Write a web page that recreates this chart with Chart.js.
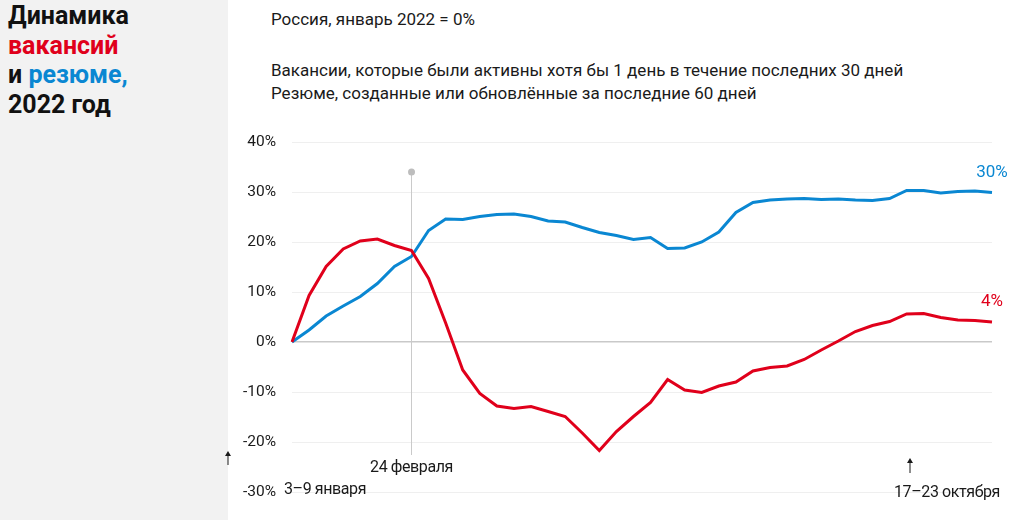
<!DOCTYPE html>
<html lang="ru">
<head>
<meta charset="utf-8">
<script src="https://cdn.jsdelivr.net/npm/chart.js@4"></script>
<style>
    html, body { margin: 0; padding: 0; background: #fff; }
    body { width: 1024px; height: 520px; position: relative; overflow: hidden; font-family: Roboto, "Noto Sans", sans-serif; color: #1a1a1a; }
    #panel { position: absolute; left: 0; top: 0; width: 228px; height: 520px; background: #f2f2f2; }
    #title { position: absolute; left: 8px; top: 1px; font-size: 25px; font-weight: 700; line-height: 29.5px; color: #111; }
    .red { color: #e0001b; }
    .blue { color: #0a87d2; }
    #sub1 { position: absolute; left: 271px; top: 9px; font-size: 17px; }
    #sub2 { position: absolute; left: 271px; top: 59px; font-size: 17px; line-height: 23px; }
    #wrap { position: absolute; left: 0; top: 0; width: 1024px; height: 520px; }
</style>
</head>
<body>
<div id="panel"></div>
<div id="title">Динамика<br><span class="red">вакансий</span><br>и <span class="blue">резюме,</span><br>2022 год</div>
<div id="sub1">Россия, январь 2022 = 0%</div>
<div id="sub2">Вакансии, которые были активны хотя бы 1 день в течение последних 30 дней<br>Резюме, созданные или обновлённые за последние 60 дней</div>
<div id="wrap"><canvas id="chart"></canvas></div>

<script>
// недели 2022 года
let weeks = [
    "3–9 января", "10–16 января", "17–23 января", "24–30 января", "31 января–6 февраля",
    "7–13 февраля", "14–20 февраля", "21–27 февраля", "28 февраля–6 марта", "7–13 марта",
    "14–20 марта", "21–27 марта", "28 марта–3 апреля", "4–10 апреля", "11–17 апреля",
    "18–24 апреля", "25 апреля–1 мая", "2–8 мая", "9–15 мая", "16–22 мая",
    "23–29 мая", "30 мая–5 июня", "6–12 июня", "13–19 июня", "20–26 июня",
    "27 июня–3 июля", "4–10 июля", "11–17 июля", "18–24 июля", "25–31 июля",
    "1–7 августа", "8–14 августа", "15–21 августа", "22–28 августа", "29 августа–4 сентября",
    "5–11 сентября", "12–18 сентября", "19–25 сентября", "26 сентября–2 октября", "3–9 октября",
    "10–16 октября", "17–23 октября"
];

let vacancies = [
    0, 9.3, 15.1, 18.6, 20.2, 20.6, 19.3, 18.3, 12.7, 3.8,
    -5.6, -10.3, -12.8, -13.3, -12.9, -13.9, -14.9, -18.2, -21.7, -17.9,
    -14.9, -12.1, -7.5, -9.6, -10.1, -8.8, -8.0, -5.8, -5.1, -4.8,
    -3.5, -1.6, 0.2, 2.1, 3.3, 4.1, 5.6, 5.7, 4.9, 4.4,
    4.3, 4.0
];

let resumes = [
    0, 2.4, 5.2, 7.2, 9.1, 11.7, 15.1, 17.1, 22.3, 24.6,
    24.5, 25.1, 25.5, 25.6, 25.1, 24.2, 24.0, 22.9, 21.9, 21.3,
    20.5, 20.9, 18.7, 18.8, 20.0, 22.0, 25.9, 27.9, 28.4, 28.6,
    28.7, 28.5, 28.6, 28.4, 28.3, 28.7, 30.3, 30.3, 29.8, 30.1,
    30.2, 29.9
];

let yTicks = [-30, -20, -10, 0, 10, 20, 30, 40];

let markWeek = 7;          // 24 февраля
let endLabels = ["4%", "30%"];

const RED = "#e0001b";
const BLUE = "#0a87d2";
const FONT = "Roboto, 'Noto Sans', sans-serif";

let notes = {
    id: "notes",
    beforeDatasetsDraw(chart) {
        let c = chart.ctx;
        let x = chart.scales.x.getPixelForValue(markWeek);
        let y = chart.scales.y;
        c.save();
        c.strokeStyle = "#cacaca";
        c.lineWidth = 1;
        c.beginPath();
        c.moveTo(x, y.getPixelForValue(34));
        c.lineTo(x, y.getPixelForValue(-22.6));
        c.stroke();
        c.fillStyle = "#bdbdbd";
        c.beginPath();
        c.arc(x, y.getPixelForValue(34), 3.5, 0, Math.PI * 2);
        c.fill();
        c.restore();
    },
    afterDraw(chart) {
        let c = chart.ctx;
        let xs = chart.scales.x;
        let ys = chart.scales.y;
        let last = weeks.length - 1;
        c.save();
        c.font = "17px " + FONT;
        c.textBaseline = "middle";

        // подписи в конце линий
        c.textAlign = "center";
        c.fillStyle = RED;
        c.fillText(endLabels[0], xs.getPixelForValue(last), ys.getPixelForValue(vacancies[last]) - 20);
        c.fillStyle = BLUE;
        c.fillText(endLabels[1], xs.getPixelForValue(last), ys.getPixelForValue(resumes[last]) - 20);

        // подписи дат
        c.fillStyle = "#1a1a1a";
        c.font = "16px " + FONT;
        c.letterSpacing = "-0.4px";
        c.fillText("24 февраля", xs.getPixelForValue(markWeek), 468);
        c.textAlign = "left";
        c.fillText(weeks[0], xs.getPixelForValue(0) - 8, 490);
        c.textAlign = "right";
        c.fillText(weeks[last], xs.getPixelForValue(last) + 8, 493);
        c.letterSpacing = "0px";

        // стрелки
        drawArrow(c, 228, 465, 451);
        drawArrow(c, 910, 473, 458);
        c.restore();
    }
};

function drawArrow(c, x, y1, y2) {
    c.strokeStyle = "#1a1a1a";
    c.fillStyle = "#1a1a1a";
    c.lineWidth = 1;
    c.beginPath();
    c.moveTo(x, y1);
    c.lineTo(x, y2 + 3);
    c.stroke();
    c.beginPath();
    c.moveTo(x, y2);
    c.lineTo(x - 3, y2 + 5);
    c.lineTo(x + 3, y2 + 5);
    c.closePath();
    c.fill();
}

new Chart(document.getElementById("chart"), {
    type: "line",
    data: {
        labels: weeks,
        datasets: [
            {
                label: "Вакансии",
                data: vacancies,
                borderColor: RED,
                borderWidth: 3,
                pointRadius: 0,
                tension: 0
            },
            {
                label: "Резюме",
                data: resumes,
                borderColor: BLUE,
                borderWidth: 3,
                pointRadius: 0,
                tension: 0
            }
        ]
    },
    options: {
        responsive: true,
        maintainAspectRatio: false,
        animation: false,
        layout: { padding: { left: 222, right: 32, top: 142, bottom: 28 } },
        plugins: {
            legend: { display: false },
            tooltip: { enabled: false }
        },
        scales: {
            x: { display: false },
            y: {
                min: -30,
                max: 40,
                afterFit: (s) => { s.width = 70; },
                afterBuildTicks: (s) => { s.ticks = yTicks.map(v => ({ value: v })); },
                border: { display: false },
                grid: {
                    drawTicks: false,
                    color: (ctx) => ctx.tick && ctx.tick.value === 0 ? "#c9c9c9" : "#efefef",
                    lineWidth: (ctx) => ctx.tick && ctx.tick.value === 0 ? 1.5 : 1
                },
                ticks: {
                    padding: 16,
                    color: "#1a1a1a",
                    font: { family: FONT, size: 15.5 },
                    callback: (v) => v + "%"
                }
            }
        }
    },
    plugins: [notes]
});
</script>
</body>
</html>
